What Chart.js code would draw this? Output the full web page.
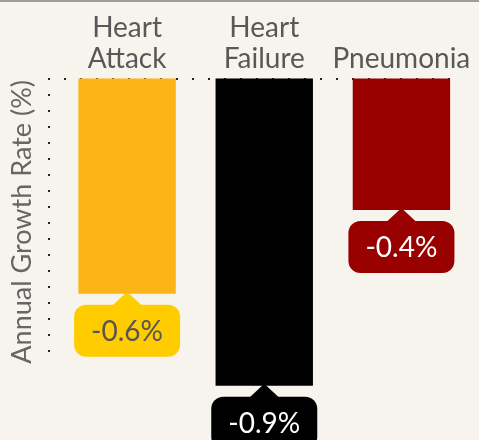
<!DOCTYPE html>
<html>
<head>
<meta charset="utf-8">
<script src="https://cdn.jsdelivr.net/npm/chart.js@4"></script>
<style>
    html, body { margin: 0; padding: 0; background: #f7f4ed; }
    #wrap { width: 479px; height: 440px; }
</style>
</head>
<body>
<div id="wrap"><canvas id="myChart" width="479" height="440"></canvas></div>
<script>
// Chart data
const categories = [["Heart", "Attack"], ["Heart", "Failure"], "Pneumonia"];
const growthRates = [-0.63, -0.9, -0.385];
const barColors = ["#fbb516", "#000000", "#990000"];
const calloutColors = ["#ffcc00", "#000000", "#990000"];
const calloutTextColors = ["#555555", "#ffffff", "#ffffff"];
const axisTitle = "Annual Growth Rate (%)";

// Draws the dotted axis lines, the grey top rule and the value callouts
const decorations = {
    id: "decorations",
    beforeDraw(chart) {
        const ctx = chart.ctx;
        const y = chart.scales.y;
        ctx.save();
        ctx.fillStyle = "#9d9d9d";
        ctx.fillRect(0, 0, chart.width, 2);
        ctx.fillStyle = "#222222";
        // horizontal dotted line at zero
        const y0 = Math.round(y.getPixelForValue(0)) - 1;
        for (let x = 48; x <= 448; x += 16) {
            ctx.fillRect(x, y0, 2, 2);
        }
        // vertical dotted line on the left
        const yEnd = y.getPixelForValue(y.min);
        for (let yy = y0; yy <= yEnd; yy += 16) {
            ctx.fillRect(48, yy, 2, 2);
        }
        ctx.restore();
    },
    afterDatasetsDraw(chart) {
        const ctx = chart.ctx;
        const meta = chart.getDatasetMeta(0);
        ctx.save();
        meta.data.forEach((bar, i) => {
            const w = 106, h = 52, r = 12, gap = 11, tri = 15;
            const cx = bar.x;
            const top = bar.y + gap;
            ctx.fillStyle = calloutColors[i];
            ctx.beginPath();
            ctx.roundRect(cx - w / 2, top, w, h, r);
            ctx.fill();
            ctx.beginPath();
            ctx.moveTo(cx - tri, top + 1);
            ctx.lineTo(cx, bar.y - 2);
            ctx.lineTo(cx + tri, top + 1);
            ctx.closePath();
            ctx.fill();
            ctx.fillStyle = calloutTextColors[i];
            ctx.font = "28px Lato";
            ctx.textAlign = "center";
            ctx.textBaseline = "middle";
            ctx.fillText(growthRates[i].toFixed(1) + "%", cx, top + h / 2 + 1);
        });
        ctx.restore();
    }
};

window.onload = function() {
    const ctx = document.getElementById("myChart");
    new Chart(ctx, {
        type: "bar",
        data: {
            labels: categories,
            datasets: [{
                data: growthRates,
                backgroundColor: barColors,
                borderWidth: 0,
                clip: false,
                categoryPercentage: 1,
                barPercentage: 0.71
            }]
        },
        options: {
            responsive: false,
            animation: false,
            layout: { padding: { top: 9, right: 9, bottom: 75, left: 0 } },
            plugins: {
                legend: { display: false },
                tooltip: { enabled: false }
            },
            scales: {
                x: {
                    position: "top",
                    grid: { display: false, drawTicks: false },
                    border: { display: false },
                    ticks: {
                        color: "#585858",
                        padding: 4,
                        font: { family: "Lato", size: 28, lineHeight: 1.1 },
                        maxRotation: 0,
                        autoSkip: false
                    }
                },
                y: {
                    min: -0.839,
                    max: 0,
                    grid: { display: false, drawTicks: false },
                    border: { display: false },
                    ticks: { display: false },
                    title: {
                        display: true,
                        text: axisTitle,
                        color: "#666666",
                        font: { family: "Lato", size: 27 },
                        padding: { top: 6, bottom: 0 }
                    },
                    afterFit: function(scale) { scale.width = 58.5; }
                }
            }
        },
        plugins: [decorations]
    });
};
</script>
</body>
</html>
